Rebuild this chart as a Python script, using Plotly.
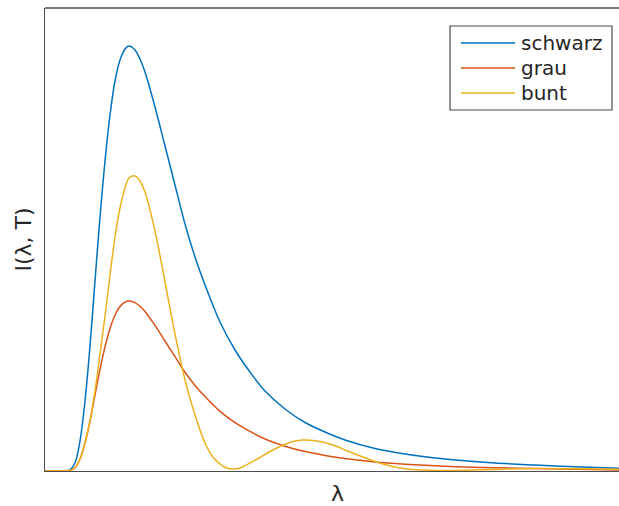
import plotly.graph_objects as go

# Wavelength grid (arbitrary units) and intensities (arbitrary units)
lam = [0, 20, 25, 30, 35, 40, 45, 50, 55, 60, 65, 70, 75, 80, 84, 90, 95, 100, 110, 120, 130,
       140, 150, 160, 175, 190, 205, 220, 240, 260, 280, 300, 330, 360, 390, 420, 450, 490,
       530, 574]
I_schwarz = [0, 0.1, 1.2, 8, 30, 70, 125, 190, 254, 310, 356, 390, 411, 422, 425, 421, 412,
             399, 364, 325, 286, 247, 214, 186, 149, 121, 99, 80, 62, 48.5, 39, 31, 22.5, 17,
             13, 10.2, 8, 6, 4.2, 2.8]
I_grau = [0, 0.04, 0.5, 3.2, 12, 28, 50, 76, 101.6, 124, 142.4, 156, 164.4, 168.8, 170, 168.4,
          164.8, 159.6, 145.6, 130, 114.4, 98.8, 85.6, 74.4, 59.6, 48.4, 39.6, 32, 24.8, 19.4,
          15.6, 12.4, 9, 6.8, 5.2, 4.1, 3.2, 2.4, 1.7, 1.1]

lam_bunt = [0, 20, 25, 30, 35, 40, 45, 50, 55, 60, 65, 70, 75, 80, 84, 90, 95, 100, 110, 120,
            130, 140, 150, 160, 168, 175, 180, 185, 190, 195, 205, 215, 225, 235, 248, 258,
            272, 288, 305, 322, 338, 355, 372, 390, 420, 450, 490, 530, 574]
I_bunt = [0, 0, 0.5, 3.2, 12, 28, 50, 80, 117, 155, 196, 234, 263, 283, 293, 295, 290, 279,
          240, 189, 137, 91, 56, 28, 14, 7, 3.8, 2.2, 2, 3, 8, 13.5, 19.5, 24.5, 29.5, 31,
          30, 26, 19, 12.5, 7, 3, 1.2, 0.6, 0.8, 1.6, 2.4, 2.3, 1.8]

names = ["schwarz", "grau", "bunt"]
colors = ["#0072BD", "#D95319", "#EDB120"]
xs_all = [lam, lam, lam_bunt]
ys_all = [I_schwarz, I_grau, I_bunt]

fig = go.Figure()
for name, xs, ys, col in zip(names, xs_all, ys_all, colors):
    fig.add_trace(go.Scatter(x=xs, y=ys, mode="lines", name=name, showlegend=False,
                             line=dict(color=col, width=1.5, shape="spline", smoothing=0.9)))

axis_col = "#4d4d4d"
txt_col = "#262626"

# legend drawn as box + sample lines + labels (paper coordinates)
leg_x0, leg_x1, leg_y0, leg_y1 = 0.7056, 0.9878, 0.7797, 0.9611
line_x0, line_x1, text_x = 0.7247, 0.8188, 0.8258
rows_y = [0.9244, 0.8704, 0.8164]

shapes = [dict(type="line", xref="paper", yref="paper", x0=0, x1=1, y0=1, y1=1,
               line=dict(color=axis_col, width=1.3)),
          dict(type="rect", xref="paper", yref="paper", x0=leg_x0, x1=leg_x1,
               y0=leg_y0, y1=leg_y1, fillcolor="white", layer="above",
               line=dict(color=axis_col, width=1.2))]
annotations = [dict(text="λ", xref="paper", yref="paper", x=0.51, y=0, yshift=-22,
                    xanchor="center", yanchor="middle", showarrow=False,
                    font=dict(family="DejaVu Sans", size=22, color=txt_col))]
for name, col, ry in zip(names, colors, rows_y):
    shapes.append(dict(type="line", xref="paper", yref="paper", x0=line_x0, x1=line_x1,
                       y0=ry, y1=ry, layer="above", line=dict(color=col, width=1.5)))
    annotations.append(dict(text=name, xref="paper", yref="paper", x=text_x, y=ry, yshift=0,
                            xanchor="left", yanchor="middle", showarrow=False,
                            font=dict(family="DejaVu Sans", size=20, color=txt_col)))

fig.update_layout(
    width=619, height=506,
    margin=dict(l=45, r=0, t=8, b=35),
    paper_bgcolor="white", plot_bgcolor="white",
    font=dict(family="DejaVu Sans", size=20, color=txt_col),
    showlegend=False,
    xaxis=dict(range=[0, 574], showgrid=False, zeroline=False, showticklabels=False,
               ticks="", showline=True, linecolor=axis_col, linewidth=1.3),
    yaxis=dict(range=[0, 463], showgrid=False, zeroline=False, showticklabels=False,
               ticks="", showline=True, linecolor=axis_col, linewidth=1.3,
               title=dict(text="I(λ, T)", standoff=6,
                          font=dict(family="DejaVu Sans", size=22, color=txt_col))),
    shapes=shapes,
    annotations=annotations,
)

fig.write_html("out.html")
